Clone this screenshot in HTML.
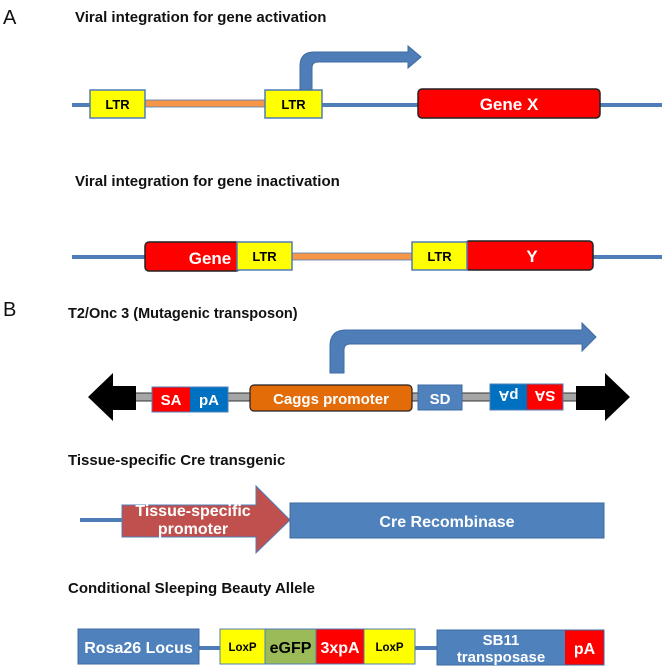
<!DOCTYPE html>
<html><head><meta charset="utf-8"><style>
html,body{margin:0;padding:0;background:#fff;}
svg{display:block;font-family:"Liberation Sans",sans-serif;}
.t{font-weight:bold;font-size:15px;fill:#111;}
.w{fill:#fff;font-weight:bold;text-anchor:middle;}
.k{fill:#000;font-weight:bold;text-anchor:middle;}
</style></head><body>
<svg width="666" height="669" viewBox="0 0 666 669">
<!-- A -->
<text x="3" y="24" font-size="20" fill="#111">A</text>
<text class="t" x="75" y="22">Viral integration for gene activation</text>
<line x1="72" y1="105" x2="662" y2="105" stroke="#4f7db8" stroke-width="4"/>
<rect x="145" y="100" width="122" height="7" fill="#f79646" stroke="#4f7db8" stroke-width="0.8"/>
<rect x="90" y="90" width="55" height="28" fill="#ffff00" stroke="#4f7db8" stroke-width="1.5"/>
<text class="k" x="117.5" y="109" font-size="13">LTR</text>
<rect x="265" y="90" width="57" height="28" fill="#ffff00" stroke="#4f7db8" stroke-width="1.5"/>
<text class="k" x="293.5" y="109" font-size="13">LTR</text>
<path d="M300 90 V66 Q300 52 314 52 H408 V46 L421 57 L408 68 V62 H318 Q312 62 312 68 V90 Z" fill="#4f7db8" stroke="#3d6aa0" stroke-width="1"/>
<rect x="418" y="89" width="182" height="29" rx="4" fill="#ff0000" stroke="#222" stroke-width="1.5"/>
<text class="w" x="509" y="110" font-size="17">Gene X</text>

<text class="t" x="75" y="186">Viral integration for gene inactivation</text>
<line x1="72" y1="257" x2="662" y2="257" stroke="#4f7db8" stroke-width="4"/>
<rect x="292" y="253" width="120" height="7" fill="#f79646" stroke="#4f7db8" stroke-width="0.8"/>
<rect x="145" y="242" width="95" height="29" rx="4" fill="#ff0000" stroke="#222" stroke-width="1.5"/>
<text class="w" x="210" y="264" font-size="17">Gene</text>
<rect x="237" y="242" width="55" height="28" fill="#ffff00" stroke="#4f7db8" stroke-width="1.5"/>
<text class="k" x="264.5" y="261" font-size="13">LTR</text>
<rect x="465" y="241" width="128" height="29" rx="4" fill="#ff0000" stroke="#222" stroke-width="1.5"/>
<text class="w" x="532" y="262" font-size="17">Y</text>
<rect x="412" y="242" width="55" height="28" fill="#ffff00" stroke="#4f7db8" stroke-width="1.5"/>
<text class="k" x="439.5" y="261" font-size="13">LTR</text>

<!-- B -->
<text x="3" y="316" font-size="20" fill="#111">B</text>
<text class="t" x="68" y="318" style="font-size:14.5px">T2/Onc 3 (Mutagenic transposon)</text>
<rect x="134" y="393" width="443" height="8" fill="#a6a6a6" stroke="#333" stroke-width="1"/>
<path d="M88 397 L113 373 V386 H136 V410 H113 V421 Z" fill="#000"/>
<path d="M630 397 L605 373 V386 H576 V410 H605 V421 Z" fill="#000"/>
<rect x="152" y="387" width="38" height="25" fill="#ff0000"/>
<rect x="190" y="387" width="38" height="25" fill="#0070c0"/>
<rect x="152" y="387" width="76" height="25" fill="none" stroke="#4f7db8" stroke-width="1"/>
<text class="w" x="171" y="405" font-size="15">SA</text>
<text class="w" x="209" y="405" font-size="15">pA</text>
<path d="M330 373 V346 Q330 330 346 330 H582 V323 L596 337 L582 351 V344 H350 Q344 344 344 350 V373 Z" fill="#4f7db8" stroke="#3d6aa0" stroke-width="1"/>
<rect x="250" y="385" width="162" height="26" rx="4" fill="#e36c09" stroke="#222" stroke-width="1.2"/>
<text class="w" x="331" y="404" font-size="15">Caggs promoter</text>
<rect x="418" y="385" width="44" height="25" fill="#4f81bd" stroke="#3d6aa0" stroke-width="1"/>
<text class="w" x="440" y="404" font-size="15">SD</text>
<rect x="490" y="384" width="37" height="26" fill="#0070c0"/>
<rect x="527" y="384" width="36" height="26" fill="#ff0000"/>
<rect x="490" y="384" width="73" height="26" fill="none" stroke="#4f7db8" stroke-width="1"/>
<text class="w" font-size="15" transform="translate(508.5 391) rotate(180)">pA</text>
<text class="w" font-size="15" transform="translate(545 391) rotate(180)">SA</text>

<text class="t" x="68" y="465">Tissue-specific Cre transgenic</text>
<line x1="80" y1="520" x2="124" y2="520" stroke="#4f7db8" stroke-width="4"/>
<path d="M122 505 H256 V486 L290 520 L256 553 V537 H122 Z" fill="#c0504d" stroke="#4f7db8" stroke-width="1"/>
<text class="w" x="193" y="516" font-size="16">Tissue-specific</text>
<text class="w" x="193" y="534" font-size="16">promoter</text>
<rect x="290" y="503" width="314" height="35" fill="#4f81bd" stroke="#3d6aa0" stroke-width="1"/>
<text class="w" x="447" y="527" font-size="16">Cre Recombinase</text>

<text class="t" x="68" y="593">Conditional Sleeping Beauty Allele</text>
<line x1="199" y1="648" x2="437" y2="648" stroke="#4f7db8" stroke-width="4"/>
<rect x="78" y="629" width="121" height="35" fill="#4f81bd" stroke="#3d6aa0" stroke-width="1"/>
<text class="w" x="138.5" y="653" font-size="16">Rosa26 Locus</text>
<rect x="220" y="629" width="45" height="35" fill="#ffff00"/>
<rect x="265" y="629" width="51" height="35" fill="#9bbb59"/>
<rect x="316" y="629" width="48" height="35" fill="#ff0000"/>
<rect x="364" y="629" width="51" height="35" fill="#ffff00"/>
<rect x="220" y="629" width="195" height="35" fill="none" stroke="#4f7db8" stroke-width="1"/>
<line x1="265" y1="629" x2="265" y2="664" stroke="#4f7db8"/><line x1="316" y1="629" x2="316" y2="664" stroke="#4f7db8"/><line x1="364" y1="629" x2="364" y2="664" stroke="#4f7db8"/>
<text class="k" x="242.5" y="651" font-size="11.5">LoxP</text>
<text class="k" x="290.5" y="653" font-size="16" fill="#111">eGFP</text>
<text class="w" x="340" y="653" font-size="16">3xpA</text>
<text class="k" x="389.5" y="651" font-size="11.5">LoxP</text>
<rect x="437" y="630" width="128" height="35" fill="#4f81bd"/>
<rect x="565" y="630" width="39" height="35" fill="#ff0000"/>
<rect x="437" y="630" width="167" height="35" fill="none" stroke="#3d6aa0" stroke-width="1"/>
<text class="w" x="501" y="645" font-size="15">SB11</text>
<text class="w" x="501" y="662" font-size="15">transposase</text>
<text class="w" x="584.5" y="654" font-size="16">pA</text>
</svg>
</body></html>
